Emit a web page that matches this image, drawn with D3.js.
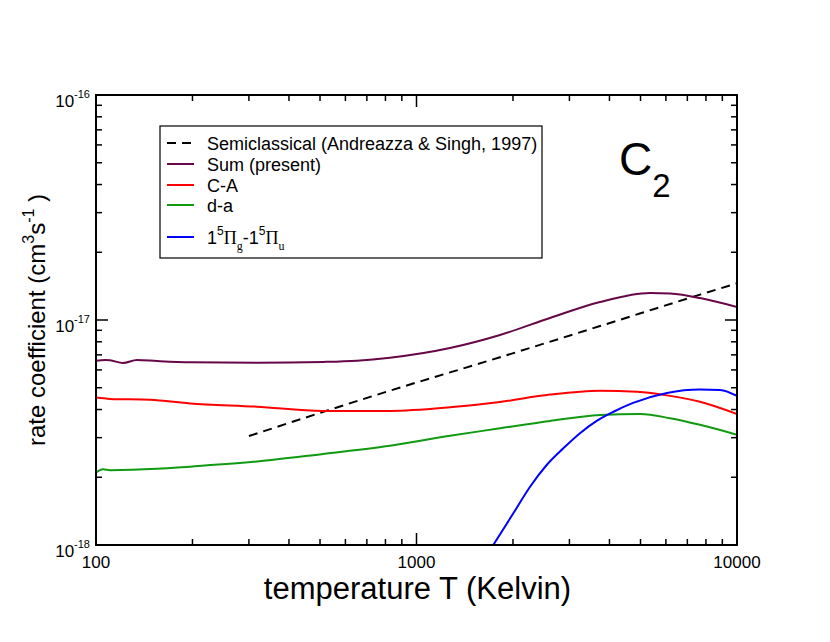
<html>
<head>
    <script src="https://d3js.org/d3.v7.min.js"></script>
    <style>
        body { margin: 0; background: white; }
        text { font-family: "Liberation Sans", Arial, sans-serif; fill: black; }
    </style>
</head>
<body>
    <svg id="chart" width="830" height="642"></svg>

    <script>
    // data (T in Kelvin, rate in cm^3 s^-1)
    const semiT = [300, 826, 1822, 3737, 7665, 10000];
    const semiK = [3.05e-18, 4.85e-18, 6.83e-18, 9.40e-18, 1.296e-17, 1.456e-17];

    const sumT = [100, 106.7, 110.6, 121.4, 134.2, 155, 196.5, 318, 511, 652, 826, 1272, 1822, 2610, 3737, 5353, 6180, 7665, 10000];
    const sumK = [6.59e-18, 6.64e-18, 6.62e-18, 6.44e-18, 6.64e-18, 6.57e-18, 6.49e-18, 6.46e-18, 6.51e-18, 6.59e-18,
                  6.80e-18, 7.51e-18, 8.58e-18, 1.021e-17, 1.202e-17, 1.318e-17, 1.31e-17, 1.252e-17, 1.142e-17];

    const caT = [100, 110.6, 147.4, 196.5, 318, 511, 826, 1272, 1822, 2610, 3737, 4875, 6180, 7665, 10000];
    const caK = [4.52e-18, 4.46e-18, 4.42e-18, 4.26e-18, 4.12e-18, 3.94e-18, 3.94e-18, 4.09e-18, 4.32e-18, 4.66e-18,
                 4.85e-18, 4.80e-18, 4.60e-18, 4.33e-18, 3.82e-18];

    const daT = [100, 105.2, 110.6, 155, 196.5, 318, 511, 826, 1272, 1822, 2610, 3737, 4983, 6180, 7665, 10000];
    const daK = [2.10e-18, 2.17e-18, 2.15e-18, 2.18e-18, 2.23e-18, 2.35e-18, 2.54e-18, 2.76e-18, 3.06e-18, 3.30e-18,
                 3.56e-18, 3.78e-18, 3.82e-18, 3.66e-18, 3.42e-18, 3.09e-18];

    const piT = [1736, 2005, 2261, 2548, 2871, 3237, 3650, 4103, 4739, 6047, 7665, 8851, 10000];
    const piK = [1.0e-18, 1.383e-18, 1.816e-18, 2.268e-18, 2.69e-18, 3.14e-18, 3.56e-18, 3.90e-18, 4.28e-18,
                 4.74e-18, 4.91e-18, 4.89e-18, 4.60e-18];

    const xMajor = [100, 1000, 10000];
    const xLabels = ["100", "1000", "10000"];
    const yMajor = [1e-18, 1e-17, 1e-16];
    const yExp = ["-18", "-17", "-16"];

    const svg = d3.select("#chart");
    const pLeft = 96, pRight = 737, pTop = 95, pBottom = 545;

    const x = d3.scaleLog().domain([100, 10000]).range([pLeft, pRight]);
    const y = d3.scaleLog().domain([1e-18, 1e-16]).range([pBottom, pTop]);

    svg.append("clipPath").attr("id", "plotclip")
        .append("rect")
        .attr("x", pLeft).attr("y", pTop)
        .attr("width", pRight - pLeft).attr("height", pBottom - pTop);

    // minor ticks: 2..9 of each decade
    let xMinor = [];
    [100, 1000].forEach(d => { for (let k = 2; k <= 9; k++) xMinor.push(d * k); });
    let yMinor = [];
    [1e-18, 1e-17].forEach(d => { for (let k = 2; k <= 9; k++) yMinor.push(d * k); });

    const ticks = svg.append("g").attr("stroke", "black").attr("stroke-width", 1.5);
    function xTick(v, len) {
        ticks.append("line").attr("x1", x(v)).attr("x2", x(v)).attr("y1", pBottom).attr("y2", pBottom - len);
        ticks.append("line").attr("x1", x(v)).attr("x2", x(v)).attr("y1", pTop).attr("y2", pTop + len);
    }
    function yTick(v, len) {
        ticks.append("line").attr("y1", y(v)).attr("y2", y(v)).attr("x1", pLeft).attr("x2", pLeft + len);
        ticks.append("line").attr("y1", y(v)).attr("y2", y(v)).attr("x1", pRight).attr("x2", pRight - len);
    }
    xMajor.forEach(v => xTick(v, 12));
    xMinor.forEach(v => xTick(v, 6));
    yMajor.forEach(v => yTick(v, 12));
    yMinor.forEach(v => yTick(v, 6));

    // tick labels
    svg.append("g").selectAll("text").data(xMajor)
        .join("text")
        .attr("x", d => x(d))
        .attr("y", pBottom + 23)
        .attr("text-anchor", "middle")
        .style("font-size", "17px")
        .text((d, i) => xLabels[i]);

    const yl = svg.append("g").selectAll("text").data(yMajor)
        .join("text")
        .attr("x", pLeft - 6)
        .attr("y", d => y(d) + 12)
        .attr("text-anchor", "end")
        .style("font-size", "17px");
    yl.append("tspan").text("10");
    yl.append("tspan").attr("dy", -9).style("font-size", "11px").text((d, i) => yExp[i]);

    // curves
    const line = d3.line().x(d => x(d[0])).y(d => y(d[1])).curve(d3.curveMonotoneX);
    const plot = svg.append("g").attr("clip-path", "url(#plotclip)").attr("fill", "none").attr("stroke-width", 2);

    const series = [
        { T: semiT, K: semiK, color: "black", dash: "9,6" },
        { T: sumT, K: sumK, color: "#670748", dash: null },
        { T: caT, K: caK, color: "#ff0000", dash: null },
        { T: daT, K: daK, color: "#109a10", dash: null },
        { T: piT, K: piK, color: "#0000ff", dash: null }
    ];
    series.forEach(s => {
        plot.append("path")
            .datum(s.T.map((t, i) => [t, s.K[i]]))
            .attr("d", line)
            .attr("stroke", s.color)
            .attr("stroke-dasharray", s.dash);
    });

    // frame
    svg.append("rect")
        .attr("x", pLeft).attr("y", pTop)
        .attr("width", pRight - pLeft).attr("height", pBottom - pTop)
        .attr("fill", "none").attr("stroke", "black").attr("stroke-width", 2);

    // legend
    const legend = svg.append("g");
    legend.append("rect")
        .attr("x", 160).attr("y", 126).attr("width", 382).attr("height", 132)
        .attr("fill", "white").attr("stroke", "black").attr("stroke-width", 1.2);
    const rowY = [143, 164, 185, 205, 237];
    series.forEach((s, i) => {
        legend.append("line")
            .attr("x1", 167).attr("x2", 194)
            .attr("y1", rowY[i]).attr("y2", rowY[i])
            .attr("stroke", s.color).attr("stroke-width", 2)
            .attr("stroke-dasharray", s.dash);
    });
    const plainNames = ["Semiclassical (Andreazza & Singh, 1997)", "Sum (present)", "C-A", "d-a"];
    plainNames.forEach((n, i) => {
        legend.append("text")
            .attr("x", 207).attr("y", rowY[i] + 6.5)
            .style("font-size", "18px")
            .text(n);
    });
    const pi = legend.append("text")
        .attr("x", 207).attr("y", rowY[4] + 6.5)
        .style("font-size", "18px");
    pi.append("tspan").text("1");
    pi.append("tspan").attr("dy", -9).style("font-size", "12px").text("5");
    pi.append("tspan").attr("dy", 9).style("font-family", "Liberation Serif").text("\u03A0");
    pi.append("tspan").attr("dy", 6).style("font-size", "12px").style("font-family", "Liberation Serif").text("g");
    pi.append("tspan").attr("dy", -6).text("-1");
    pi.append("tspan").attr("dy", -9).style("font-size", "12px").text("5");
    pi.append("tspan").attr("dy", 9).style("font-family", "Liberation Serif").text("\u03A0");
    pi.append("tspan").attr("dy", 6).style("font-size", "12px").style("font-family", "Liberation Serif").text("u");

    // molecule label
    const mol = svg.append("text").attr("x", 619).attr("y", 175).style("font-size", "46px");
    mol.append("tspan").text("C");
    mol.append("tspan").attr("dy", 22).style("font-size", "33px").text("2");

    // axis titles
    svg.append("text")
        .attr("x", (pLeft + pRight) / 2 + 1).attr("y", 599)
        .attr("text-anchor", "middle")
        .style("font-size", "31px")
        .text("temperature T (Kelvin)");

    const ytitle = svg.append("text")
        .attr("transform", "translate(45," + ((pTop + pBottom) / 2) + ") rotate(-90)")
        .attr("text-anchor", "middle")
        .style("font-size", "24px");
    ytitle.append("tspan").text("rate coefficient (cm");
    ytitle.append("tspan").attr("dy", -11).style("font-size", "16px").text("3");
    ytitle.append("tspan").attr("dy", 11).text("s");
    ytitle.append("tspan").attr("dy", -11).style("font-size", "16px").text("-1");
    ytitle.append("tspan").attr("dy", 11).text(" )");
    </script>
</body>
</html>
